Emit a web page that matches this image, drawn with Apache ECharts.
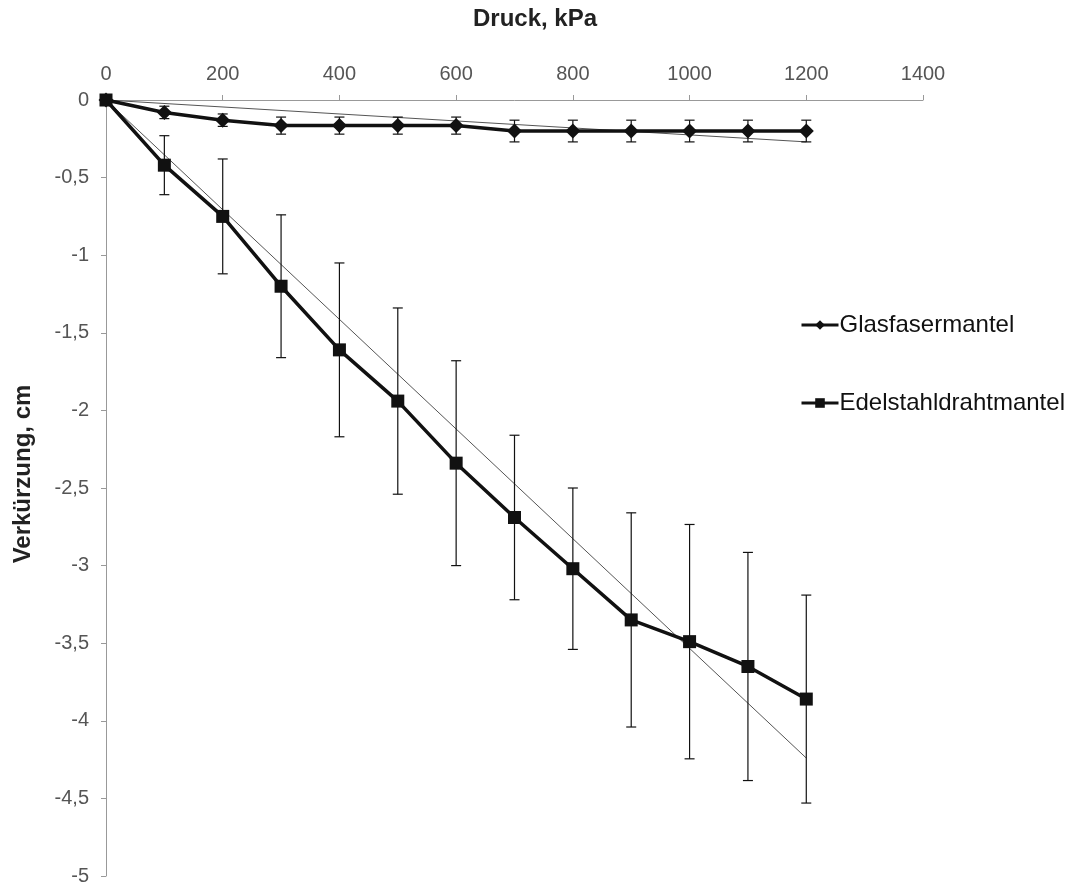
<!DOCTYPE html>
<html>
<head>
<meta charset="utf-8">
<script src="https://cdn.jsdelivr.net/npm/echarts@6/dist/echarts.min.js"></script>
<style>
  html, body { margin: 0; padding: 0; background: #fff; }
  #chart { width: 1072px; height: 883px; }
</style>
</head>
<body>
<div id="chart"></div>
<script>
// Druck (kPa)
const druck = [0, 100, 200, 300, 400, 500, 600, 700, 800, 900, 1000, 1100, 1200];
// Verkürzung (cm), Mittelwerte
const glasfaser = [0, -0.08, -0.13, -0.165, -0.165, -0.165, -0.165, -0.2, -0.2, -0.2, -0.2, -0.2, -0.2];
const edelstahl = [0, -0.42, -0.75, -1.2, -1.61, -1.94, -2.34, -2.69, -3.02, -3.35, -3.49, -3.65, -3.86];
// Standardabweichung (Fehlerbalken)
const glasfaserErr = [0, 0.04, 0.04, 0.055, 0.055, 0.055, 0.055, 0.07, 0.07, 0.07, 0.07, 0.07, 0.07];
const edelstahlErr = [0, 0.19, 0.37, 0.46, 0.56, 0.6, 0.66, 0.53, 0.52, 0.69, 0.755, 0.735, 0.67];
// lineare Trendlinien (Start- und Endpunkt)
const trendGlasfaser = [[0, 0], [1200, -0.27]];
const trendEdelstahl = [[0, 0], [1200, -4.24]];

const chart = echarts.init(document.getElementById('chart'));

function pairs(ys) {
  return druck.map((x, i) => [x, ys[i]]);
}
function errData(ys, es) {
  return druck.map((x, i) => [x, ys[i] - es[i], ys[i] + es[i]]);
}
function renderErr(params, api) {
  const top = api.coord([api.value(0), api.value(2)]);
  const bot = api.coord([api.value(0), api.value(1)]);
  const w = 5;
  const style = { stroke: '#111', lineWidth: 1.2 };
  return {
    type: 'group',
    children: [
      { type: 'line', shape: { x1: top[0], y1: top[1], x2: bot[0], y2: bot[1] }, style: style },
      { type: 'line', shape: { x1: top[0] - w, y1: top[1], x2: top[0] + w, y2: top[1] }, style: style },
      { type: 'line', shape: { x1: bot[0] - w, y1: bot[1], x2: bot[0] + w, y2: bot[1] }, style: style }
    ]
  };
}

const labelFont = { fontFamily: 'Liberation Sans', fontSize: 20, color: '#555' };
const nameFont = { fontFamily: 'Liberation Sans', fontSize: 24, fontWeight: 'bold', fill: '#222' };

const option = {
  animation: false,
  grid: { left: 106, top: 100, width: 817, height: 776, outerBoundsMode: 'none', containLabel: false },
  graphic: [
    {
      type: 'text', x: 535, y: 19,
      style: Object.assign({ text: 'Druck, kPa', textAlign: 'center', textVerticalAlign: 'middle' }, nameFont)
    },
    {
      type: 'text', x: 23, y: 474, rotation: Math.PI / 2,
      style: Object.assign({ text: 'Verkürzung, cm', textAlign: 'center', textVerticalAlign: 'middle' }, nameFont)
    }
  ],
  legend: {
    data: ['Glasfasermantel', 'Edelstahldrahtmantel'],
    orient: 'vertical',
    left: 795,
    top: 308,
    itemGap: 54,
    itemWidth: 37,
    itemHeight: 12,
    lineStyle: { width: 3 },
    textStyle: { fontFamily: 'Liberation Sans', fontSize: 24, color: '#111', padding: [0, 0, 0, -4] }
  },
  xAxis: {
    type: 'value',
    position: 'top',
    min: 0, max: 1400, interval: 200,
    axisLine: { lineStyle: { color: '#999', width: 1 } },
    axisTick: { show: true, length: 5, lineStyle: { color: '#999' } },
    axisLabel: Object.assign({ margin: 16, formatter: v => String(v) }, labelFont),
    splitLine: { show: false }
  },
  yAxis: {
    type: 'value',
    min: -5, max: 0, interval: 0.5,
    axisLine: { show: true, lineStyle: { color: '#999', width: 1 } },
    axisTick: { show: true, length: 5, lineStyle: { color: '#999' } },
    axisLabel: Object.assign({ margin: 17, formatter: v => String(v).replace('.', ',') }, labelFont),
    splitLine: { show: false }
  },
  series: [
    {
      name: 'trend-glas', type: 'line', data: trendGlasfaser, symbol: 'none',
      lineStyle: { color: '#555', width: 1 }, z: 1, silent: true
    },
    {
      name: 'trend-edel', type: 'line', data: trendEdelstahl, symbol: 'none',
      lineStyle: { color: '#555', width: 1 }, z: 1, silent: true
    },
    {
      name: 'err-glas', type: 'custom', data: errData(glasfaser, glasfaserErr),
      renderItem: renderErr, z: 2, silent: true
    },
    {
      name: 'err-edel', type: 'custom', data: errData(edelstahl, edelstahlErr),
      renderItem: renderErr, z: 2, silent: true
    },
    {
      name: 'Glasfasermantel', type: 'line', data: pairs(glasfaser),
      symbol: 'diamond', symbolSize: 15,
      itemStyle: { color: '#111' },
      lineStyle: { color: '#111', width: 3.5 }, z: 3
    },
    {
      name: 'Edelstahldrahtmantel', type: 'line', data: pairs(edelstahl),
      symbol: 'rect', symbolSize: 13,
      itemStyle: { color: '#111' },
      lineStyle: { color: '#111', width: 3.5 }, z: 3
    }
  ]
};

chart.setOption(option);
</script>
</body>
</html>
